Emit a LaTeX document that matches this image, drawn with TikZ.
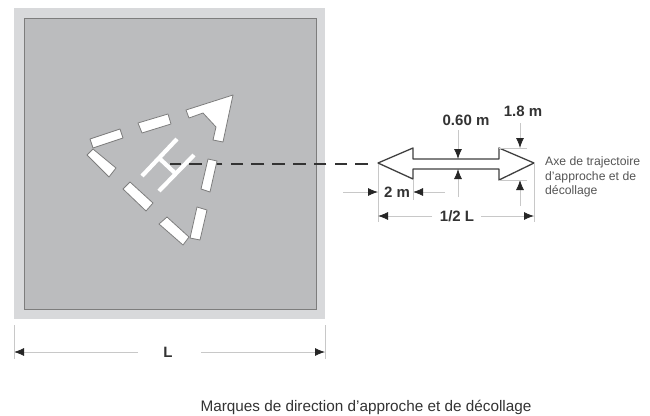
\documentclass[tikz,border=0pt]{standalone}
\usepackage{fontspec}
\setmainfont{Liberation Sans}
\usetikzlibrary{arrows.meta}
\definecolor{padgray}{RGB}{187,188,190}
\definecolor{edgegray}{RGB}{216,217,219}
\definecolor{linegray}{RGB}{125,125,125}
\definecolor{dimgray}{RGB}{200,200,200}
\definecolor{txtgray}{RGB}{85,85,85}
\tikzset{
  x=1pt,y=-1pt,
  mark shape/.style={draw=linegray,line width=0.8pt,fill=white,line join=round},
  hbar/.style={draw=white,line width=4.2pt},
  dimline/.style={draw=dimgray,line width=0.8pt},
  dimtip/.style={dimline,-{Latex[black!85,length=10pt,width=8pt]}},
  dimlabel/.style={font=\bfseries\fontsize{15}{17}\selectfont,text=black!80,inner sep=0pt},
}
\begin{document}
\begin{tikzpicture}
\useasboundingbox (0,0) rectangle (650,415);
\fill[white] (0,0) rectangle (650,415);
% pad
\fill[edgegray] (14,8) rectangle (325,319);
\draw[draw=linegray,fill=padgray,line width=0.8pt] (24,18) rectangle (316,309);
% H
\draw[hbar] (142,176) -- (177,139);
\draw[hbar] (159,191) -- (194,155);
\draw[hbar] (159,158) -- (176,174);
% centre line
\coordinate (lineStart) at (170,164);
\coordinate (lineEnd) at (368,164);
\draw[black!80,line width=2.8pt,dash pattern=on 12.6pt off 8.2pt] (lineEnd) -- (lineStart);
% marks
\draw[mark shape] (186,110) -- (233,95) -- (223,142) -- (213,140) -- (216,127) -- (203,113) -- (189,118) -- cycle;
\draw[mark shape] (138,123) -- (168,114) -- (171,124) -- (142,133) -- cycle;
\draw[mark shape] (90,139) -- (120,129) -- (123,138) -- (93,148) -- cycle;
\draw[mark shape] (87,155) -- (93,149) -- (116,168) -- (109,177) -- cycle;
\draw[mark shape] (123,189) -- (130,182) -- (153,203) -- (146,211) -- cycle;
\draw[mark shape] (159,224) -- (167,217) -- (189,237) -- (183,245) -- cycle;
\draw[mark shape] (190,238) -- (197,207) -- (207,210) -- (200,240) -- cycle;
\draw[mark shape] (201,189) -- (208,159) -- (217,161) -- (210,192) -- cycle;
% arrow
\draw[mark shape,draw=black!75,line width=1.3pt] (378,163) -- (413,148) -- (413,159) -- (499,159) -- (499,148) -- (534,163) -- (499,180) -- (499,169) -- (413,169) -- (413,179) -- cycle;
% labels
\node[dimlabel] (w) at (466,120) {0.60 m};
\node[dimlabel] (h) at (523,111) {1.8 m};
\node[dimlabel] (two) at (397,192) {2 m};
\node[dimlabel] (half) at (457,216) {1/2 L};
\node[dimlabel] (ell) at (168,352) {L};
\node[font=\fontsize{12.2}{14.5}\selectfont,text=txtgray,align=left,anchor=west,inner sep=0pt] (axe) at (545,177) {Axe de trajectoire\\d'approche et de\\décollage};
\node[font=\fontsize{15.3}{18}\selectfont,text=black!80,inner sep=0pt] (cap) at (366,407) {Marques de direction d'approche et de décollage};
% 0.60 m
\coordinate (wa) at (458,130); \coordinate (wb) at (458,159);
\coordinate (wc) at (458,197); \coordinate (wd) at (458,169);
\draw[dimtip] (wa) -- (wb);
\draw[dimtip] (wc) -- (wd);
% 1.8 m
\coordinate (ha) at (520,123); \coordinate (hb) at (520,148);
\coordinate (hc) at (520,206); \coordinate (hd) at (520,180);
\draw[dimtip] (ha) -- (hb);
\draw[dimtip] (hc) -- (hd);
\coordinate (he) at (499,148); \coordinate (hf) at (527,148);
\coordinate (hg) at (499,180); \coordinate (hh) at (527,180);
\draw[dimline] (he) -- (hf);
\draw[dimline] (hg) -- (hh);
% 2 m
\coordinate (ta) at (343,192); \coordinate (tb) at (378,192);
\coordinate (tc) at (445,192); \coordinate (td) at (413,192);
\draw[dimtip] (ta) -- (tb);
\draw[dimtip] (tc) -- (td);
\coordinate (te) at (378,164); \coordinate (tf) at (378,222);
\coordinate (tg) at (413,180); \coordinate (th) at (413,200);
\coordinate (ti) at (534,164); \coordinate (tj) at (534,222);
\draw[dimline] (te) -- (tf);
\draw[dimline] (tg) -- (th);
\draw[dimline] (ti) -- (tj);
% 1/2 L
\coordinate (qa) at (432,216); \coordinate (qb) at (378,216);
\coordinate (qc) at (481,216); \coordinate (qd) at (534,216);
\draw[dimtip] (qa) -- (qb);
\draw[dimtip] (qc) -- (qd);
% L
\coordinate (la) at (138,352); \coordinate (lb) at (14,352);
\coordinate (lc) at (201,352); \coordinate (ld) at (325,352);
\draw[dimtip] (la) -- (lb);
\draw[dimtip] (lc) -- (ld);
\coordinate (le) at (14,325); \coordinate (lf) at (14,359);
\coordinate (lg) at (325,325); \coordinate (lh) at (325,359);
\draw[dimline] (le) -- (lf);
\draw[dimline] (lg) -- (lh);
\end{tikzpicture}
\end{document}
